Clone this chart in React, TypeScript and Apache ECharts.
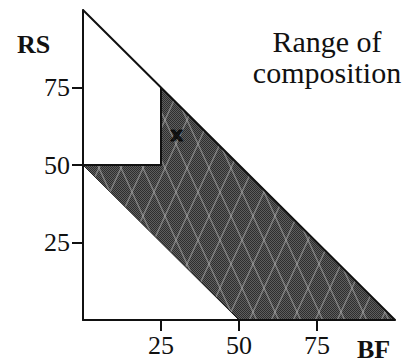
import React, { useEffect, useRef } from "react";
import * as echarts from "echarts";

// ---- data ----
const tickValues = [25, 50, 75];
const outerTriangle: number[][] = [[0, 0], [100, 0], [0, 100], [0, 0]];
const compositionRange: number[][] = [[0, 50], [25, 50], [25, 75], [100, 0], [50, 0]];
const innerBoundary: number[][] = [[0, 50], [25, 50], [25, 75]];
const samplePoint: number[][] = [[30, 60]];
const xName = "BF";
const yName = "RS";
const titleLines = ["Range of", "composition"];

const SERIF = "'Liberation Serif', serif";

function makeHatch(): HTMLCanvasElement {
  const w = 22, h = 48;
  const c = document.createElement("canvas");
  c.width = w;
  c.height = h;
  const ctx = c.getContext("2d")!;
  for (let y = 0; y < h; y++) {
    for (let x = 0; x < w; x++) {
      ctx.fillStyle = (x + y) % 2 === 0 ? "#2e2e2e" : "#5e5e5e";
      ctx.fillRect(x, y, 1, 1);
    }
  }
  ctx.strokeStyle = "rgba(200,200,200,0.45)";
  ctx.lineWidth = 1.4;
  for (const off of [-w, 0, w]) {
    ctx.beginPath();
    ctx.moveTo(off, 0);
    ctx.lineTo(off + w, h);
    ctx.stroke();
    ctx.beginPath();
    ctx.moveTo(off + w, 0);
    ctx.lineTo(off, h);
    ctx.stroke();
  }
  return c;
}

export default function App() {
  const ref = useRef<HTMLDivElement>(null);
  useEffect(() => {
    if (!ref.current) return;
    const chart = echarts.init(ref.current, undefined, { renderer: "svg" });
    const hatch = makeHatch();
    const axisCommon = {
      type: "value" as const,
      min: 0,
      max: 100,
      interval: 25,
      splitLine: { show: false },
      axisLine: { show: true, lineStyle: { color: "#111", width: 2 } },
      axisTick: {
        show: true,
        inside: false,
        length: 11,
        customValues: tickValues,
        lineStyle: { color: "#111", width: 2 },
      },
    };
    chart.setOption({
      animation: false,
      backgroundColor: "#fff",
      grid: { left: 83, top: 10, width: 312, height: 310, containLabel: false },
      xAxis: {
        ...axisCommon,
        axisLabel: {
          customValues: tickValues,
          margin: 12,
          fontFamily: SERIF,
          fontSize: 26,
          color: "#111",
        },
      },
      yAxis: {
        ...axisCommon,
        axisLabel: {
          customValues: tickValues,
          margin: 13,
          fontFamily: SERIF,
          fontSize: 26,
          color: "#111",
        },
      },
      series: [
        {
          type: "custom",
          data: [0],
          z: 1,
          renderItem: (_params: any, api: any) => {
            const pts = compositionRange.map((p) => api.coord(p));
            return {
              type: "polygon",
              shape: { points: pts },
              style: {
                fill: { image: hatch, repeat: "repeat", imageWidth: 22, imageHeight: 48 },
                stroke: "#1a1a1a",
                lineWidth: 1,
              },
            };
          },
        },
        {
          type: "line",
          data: outerTriangle,
          symbol: "none",
          z: 3,
          lineStyle: { color: "#111", width: 2 },
        },
        {
          type: "line",
          data: innerBoundary,
          symbol: "none",
          z: 3,
          lineStyle: { color: "#111", width: 2 },
        },
        {
          type: "scatter",
          data: samplePoint,
          symbolSize: 1,
          itemStyle: { color: "rgba(0,0,0,0)" },
          z: 4,
          label: {
            show: true,
            position: "inside",
            formatter: "x",
            fontFamily: "'DejaVu Sans', sans-serif",
            fontWeight: "bold",
            fontSize: 20,
            color: "#050505",
            textBorderColor: "#050505",
            textBorderWidth: 1,
          },
        },
      ],
      graphic: [
        {
          type: "text",
          left: 17,
          top: 31,
          style: { text: yName, font: `bold 26px ${SERIF}`, fill: "#111" },
        },
        {
          type: "text",
          left: 357,
          top: 336,
          style: { text: xName, font: `bold 26px ${SERIF}`, fill: "#111" },
        },
        {
          type: "text",
          x: 327,
          y: 57,
          style: {
            text: titleLines.join("\n"),
            font: `30px ${SERIF}`,
            lineHeight: 31,
            fill: "#111",
            textAlign: "center",
            textVerticalAlign: "middle",
          },
        },
      ],
    });
    return () => chart.dispose();
  }, []);
  return (
    <div
      ref={ref}
      style={{ position: "absolute", left: 0, top: 0, width: 417, height: 364 }}
    />
  );
}
